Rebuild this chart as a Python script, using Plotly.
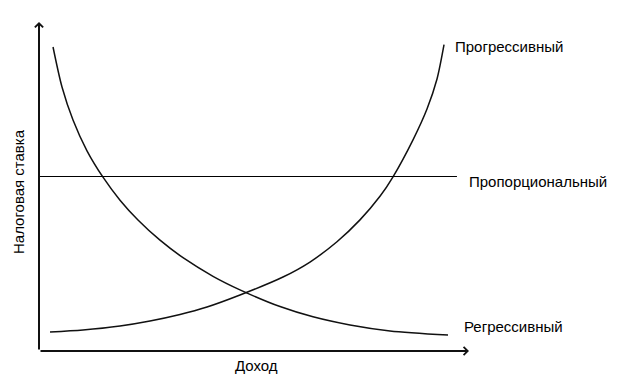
import plotly.graph_objects as go

# ---- data (income units 0..100, tax-rate units 0..100) ----
regressive_x = [3.26, 5.35, 7.91, 11.16, 14.88, 18.84, 23.02, 28.14, 33.49, 40.47, 46.74, 56.05, 63.72, 72.33, 81.63, 95.12]
regressive_y = [92.40, 80.24, 70.21, 60.85, 52.83, 45.84, 39.82, 33.68, 28.36, 22.71, 18.60, 13.50, 10.40, 7.93, 6.11, 4.86]

progressive_x = [2.56, 10.23, 18.84, 25.81, 32.79, 39.07, 46.74, 56.74, 63.02, 69.30, 74.65, 79.30, 82.33, 86.98, 90.23, 92.56, 94.19]
progressive_y = [5.78, 6.38, 7.60, 9.12, 11.09, 13.37, 17.02, 22.49, 27.05, 33.21, 39.85, 47.02, 52.95, 64.19, 73.56, 82.67, 93.10]

proportional_x = [0, 97.2]
proportional_y = [53.04, 53.04]

series_labels = ["Прогрессивный", "Пропорциональный", "Регрессивный"]
x_title = "Доход"
y_title = "Налоговая ставка"

FONT = "Liberation Sans, Arial, sans-serif"
FS = 15

fig = go.Figure()
fig.add_trace(go.Scatter(x=regressive_x, y=regressive_y, mode="lines",
                         line=dict(color="#111111", width=1.5, shape="spline", smoothing=0.8),
                         showlegend=False, hoverinfo="skip"))
fig.add_trace(go.Scatter(x=progressive_x, y=progressive_y, mode="lines",
                         line=dict(color="#111111", width=1.5, shape="spline", smoothing=0.8),
                         showlegend=False, hoverinfo="skip"))
fig.add_trace(go.Scatter(x=proportional_x, y=proportional_y, mode="lines",
                         line=dict(color="#000000", width=1),
                         showlegend=False, hoverinfo="skip"))

annotations = []
# axes with arrows
annotations.append(dict(x=0, y=100, ax=0, ay=0, xref="x", yref="y", axref="x", ayref="y",
                        text="", showarrow=True, arrowhead=4, arrowsize=0.8, arrowwidth=2,
                        arrowcolor="#111111"))
annotations.append(dict(x=100, y=0, ax=0, ay=0, xref="x", yref="y", axref="x", ayref="y",
                        text="", showarrow=True, arrowhead=4, arrowsize=0.8, arrowwidth=2,
                        arrowcolor="#111111"))
# series labels
label_pos = [(96.3, 92.7), (99.6, 51.4), (98.4, 7.3)]
for txt, (lx, ly) in zip(series_labels, label_pos):
    annotations.append(dict(x=lx, y=ly, xref="x", yref="y", text=txt, showarrow=False,
                            xanchor="left", yanchor="middle",
                            font=dict(family=FONT, size=FS, color="#000000")))
annotations.append(dict(x=50.5, y=-4.5, xref="x", yref="y", text=x_title, showarrow=False,
                        xanchor="center", yanchor="middle",
                        font=dict(family=FONT, size=FS, color="#000000")))
annotations.append(dict(x=-4.9, y=48.6, xref="x", yref="y", text=y_title, showarrow=False,
                        textangle=-90, xanchor="center", yanchor="middle",
                        font=dict(family=FONT, size=FS, color="#000000")))

# page has an 8px body margin: figure is 8px smaller and ranges are shifted accordingly
fig.update_layout(
    width=609, height=373,
    margin=dict(l=0, r=0, t=0, b=0),
    paper_bgcolor="white", plot_bgcolor="white",
    xaxis=dict(range=[(8 - 39) / 4.3, (617 - 39) / 4.3], visible=False, fixedrange=True),
    yaxis=dict(range=[(351 - 381) / 3.29, (351 - 8) / 3.29], visible=False, fixedrange=True),
    annotations=annotations,
    showlegend=False,
)

fig.write_html("out.html", config={"displayModeBar": False})
